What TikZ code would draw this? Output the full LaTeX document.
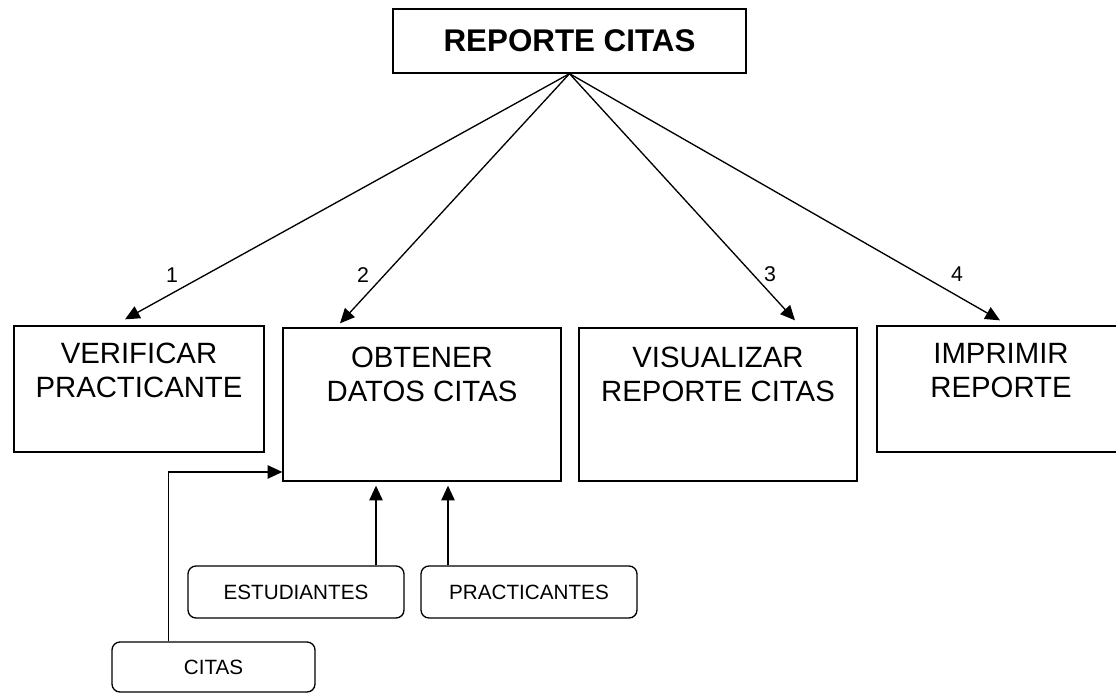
\documentclass[tikz,border=0pt]{standalone}
\usepackage{fontspec}
\setmainfont{Liberation Sans}
\usetikzlibrary{arrows.meta, positioning, calc}

\begin{document}
\begin{tikzpicture}[x=0.75pt, y=-0.75pt, line width=1pt,
    proc/.style={draw, rectangle, inner sep=0pt},
    store/.style={draw, rectangle, rounded corners=6pt, inner sep=0pt,
                  minimum height=39pt, font=\fontsize{15.5}{18}\selectfont},
    proctext/.style={anchor=north, inner sep=0pt, align=center,
                     font=\fontsize{22}{25.5}\selectfont},
    flow/.style={-{Triangle[length=11pt, width=10pt]}},
    num/.style={inner sep=0pt, font=\fontsize{16}{18}\selectfont}]
  \useasboundingbox (0,0) rectangle (1116,693);
  % main module
  \node[proc, minimum width=264.75pt, minimum height=48pt,
        font=\fontsize{23.5}{26}\selectfont\bfseries] (rep) at (569.5,41) {REPORTE CITAS};
  % sub modules
  \node[proc, minimum width=187.5pt, minimum height=94.5pt] (ver) at (139,389) {};
  \node[proc, minimum width=208.5pt, minimum height=114.75pt] (obt) at (422,404.5) {};
  \node[proc, minimum width=208.5pt, minimum height=114.75pt] (vis) at (718,404.5) {};
  \node[proc, minimum width=186pt, minimum height=94.5pt] (imp) at (1001,389) {};
  \node[proctext] (vertxt) at ([yshift=-12.75pt]ver.north) {VERIFICAR\\PRACTICANTE};
  \node[proctext] (obttxt) at ([yshift=-14.25pt]obt.north) {OBTENER\\DATOS CITAS};
  \node[proctext] (vistxt) at ([yshift=-14.25pt]vis.north) {VISUALIZAR\\REPORTE CITAS};
  \node[proctext] (imptxt) at ([yshift=-12.75pt]imp.north) {IMPRIMIR\\REPORTE};
  % data stores
  \node[store, minimum width=162pt] (est) at (296,592) {ESTUDIANTES};
  \node[store, minimum width=162pt] (pra) at (529,592) {PRACTICANTES};
  \node[store, minimum width=152.25pt, minimum height=37.5pt] (cit) at (213.5,667) {CITAS};
  % calls
  \draw[flow] (rep.south) -- ([xshift=-10.5pt, yshift=4.5pt]ver.north);
  \draw[flow] (rep.south) -- ([xshift=-61.5pt, yshift=3pt]obt.north);
  \draw[flow] (rep.south) -- ([xshift=57.75pt, yshift=5.25pt]vis.north);
  \draw[flow] (rep.south) -- ([xshift=-0.75pt, yshift=3.75pt]imp.north);
  \node[num] (n1) at (172,275) {1};
  \node[num] (n2) at (363,275) {2};
  \node[num] (n3) at (770,274) {3};
  \node[num] (n4) at (957,274) {4};
  % data flows
  \draw[flow] ([xshift=60pt]est.north) -- ($(est.north |- obt.south)+(60pt,-3pt)$);
  \draw[flow] ([xshift=-60.75pt]pra.north) -- ($(pra.north |- obt.south)+(-60.75pt,-3pt)$);
  \draw[flow] ([xshift=-34pt]cit.north) |- ([yshift=-50.6pt]obt.west);
\end{tikzpicture}
\end{document}
